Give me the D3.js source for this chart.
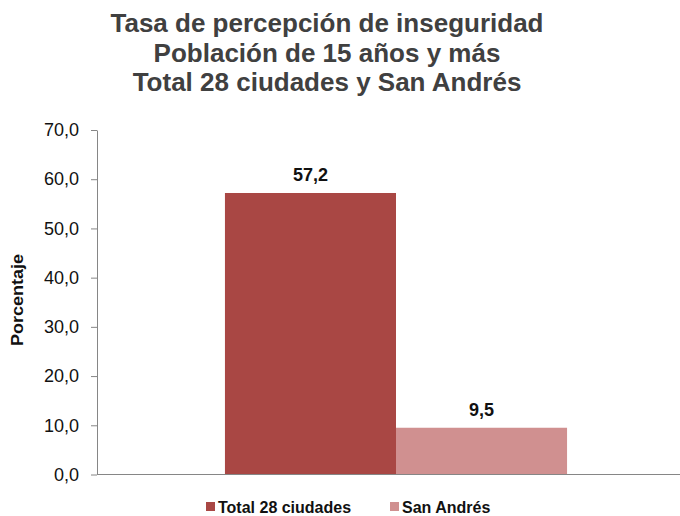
<!DOCTYPE html>
<html>
<head>
<meta charset="utf-8">
<script src="https://cdn.jsdelivr.net/npm/d3@7"></script>
<style>
  body { margin: 0; background: #fff; }
  text { font-family: Arial, "Liberation Sans", sans-serif; }
</style>
</head>
<body>
<script>
// chart data
const titleLines = ["Tasa de percepción de inseguridad", "Población de 15 años y más", "Total 28 ciudades y San Andrés"]
const categories = [""]
const seriesNames = ["Total 28 ciudades", "San Andrés"]
const seriesValues = [57.2, 9.5]
const seriesColors = ["#a94744", "#d09090"]
const yTicks = [0, 10, 20, 30, 40, 50, 60, 70]
const yLabel = "Porcentaje"

const width = 680, height = 516
const plotLeft = 97, plotRight = 695, plotTop = 130, plotBottom = 474.5

const svg = d3.select("body").append("svg")
    .attr("width", width)
    .attr("height", height)

// title
svg.append("g")
    .selectAll("text")
    .data(titleLines)
    .join("text")
    .attr("x", 327)
    .attr("y", (d, i) => 32 + i * 29.5)
    .attr("text-anchor", "middle")
    .attr("font-size", "26px")
    .attr("font-weight", "bold")
    .attr("fill", "#404040")
    .text(d => d)

const y = d3.scaleLinear().domain([0, 70]).range([plotBottom, plotTop])

const x0 = d3.scaleBand()
    .domain(categories)
    .range([plotLeft, plotRight])
    .paddingInner(0)
    .paddingOuter(0.374)

const x1 = d3.scaleBand()
    .domain(seriesNames)
    .range([0, x0.bandwidth()])

const fmt = v => d3.format(".1f")(v).replace(".", ",")

// y axis
const yAxis = svg.append("g")
    .attr("transform", `translate(${plotLeft},0)`)
    .call(d3.axisLeft(y).tickValues(yTicks).tickFormat(fmt).tickSize(6).tickSizeOuter(0).tickPadding(12))
yAxis.select(".domain").attr("stroke", "#868686")
yAxis.selectAll(".tick line").attr("stroke", "#868686")
yAxis.selectAll(".tick text")
    .attr("font-size", "18px")
    .attr("font-family", "Arial, 'Liberation Sans', sans-serif")
    .attr("fill", "#111")

// y label
svg.append("text")
    .attr("transform", "translate(23,300) rotate(-90)")
    .attr("text-anchor", "middle")
    .attr("font-size", "16px")
    .attr("font-weight", "bold")
    .attr("fill", "#111")
    .attr("textLength", 92)
    .attr("lengthAdjust", "spacingAndGlyphs")
    .text(yLabel)

// bars
const rows = seriesNames.map((name, i) => ({ cat: categories[0], name: name, value: seriesValues[i], color: seriesColors[i] }))

svg.append("g")
    .selectAll("rect")
    .data(rows)
    .join("rect")
    .attr("x", d => x0(d.cat) + x1(d.name))
    .attr("y", d => y(d.value))
    .attr("width", x1.bandwidth())
    .attr("height", d => y(0) - y(d.value))
    .attr("fill", d => d.color)

// value labels
svg.append("g")
    .selectAll("text")
    .data(rows)
    .join("text")
    .attr("x", d => x0(d.cat) + x1(d.name) + x1.bandwidth() / 2)
    .attr("y", d => y(d.value) - 11.5)
    .attr("text-anchor", "middle")
    .attr("font-size", "18px")
    .attr("font-weight", "bold")
    .attr("fill", "#111")
    .text(d => fmt(d.value))

// x axis line
svg.append("line")
    .attr("x1", plotLeft)
    .attr("x2", plotRight)
    .attr("y1", y(0))
    .attr("y2", y(0))
    .attr("stroke", "#868686")

// legend
const legendX = [206, 390]
const legend = svg.append("g")
    .selectAll("g")
    .data(rows)
    .join("g")
    .attr("transform", (d, i) => `translate(${legendX[i]},502)`)
legend.append("rect")
    .attr("width", 9)
    .attr("height", 9)
    .attr("fill", d => d.color)
legend.append("text")
    .attr("x", 12)
    .attr("y", 10.5)
    .attr("font-size", "16px")
    .attr("font-weight", "bold")
    .attr("fill", "#111")
    .text(d => d.name)
</script>
</body>
</html>
